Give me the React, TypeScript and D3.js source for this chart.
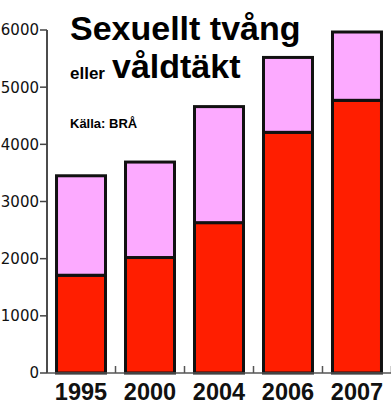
import React, { useEffect, useRef } from 'react';
import * as d3 from 'd3';

const years = ['1995', '2000', '2004', '2006', '2007'];
const valdtakt = [1710, 2020, 2630, 4210, 4770];
const ovrigt = [1740, 1670, 2030, 1310, 1195];
const yTicks = [0, 1000, 2000, 3000, 4000, 5000, 6000];

const RED = '#ff1e00';
const PINK = '#fcaaff';

const App: React.FC = () => {
  const svgRef = useRef<SVGSVGElement>(null);

  useEffect(() => {
    if (!svgRef.current) return;
    const width = 391;
    const height = 406;
    const axisX = 47;
    const baseY = 373;

    const svg = d3.select(svgRef.current);
    svg.selectAll('*').remove();

    svg.append('rect').attr('width', width).attr('height', height).attr('fill', '#fff');

    const x = d3.scaleBand<string>()
      .domain(years)
      .range([axisX, width])
      .paddingInner(0.29)
      .paddingOuter(0.138);

    const y = d3.scaleLinear().domain([0, 6000]).range([baseY, 30]);

    const rows = years.map((yr, i) => ({ year: yr, red: valdtakt[i], pink: ovrigt[i] }));
    const stack = d3.stack<{ year: string; red: number; pink: number }>().keys(['red', 'pink']);
    const series = stack(rows);
    const colors: Record<string, string> = { red: RED, pink: PINK };

    // bars
    series.forEach(s => {
      svg.append('g')
        .selectAll('rect')
        .data(s)
        .join('rect')
        .attr('x', d => x(d.data.year)!)
        .attr('width', x.bandwidth())
        .attr('y', d => y(d[1]))
        .attr('height', d => y(d[0]) - y(d[1]))
        .attr('fill', colors[s.key])
        .attr('stroke', '#111')
        .attr('stroke-width', 3);
    });

    // y axis
    svg.append('line')
      .attr('x1', axisX).attr('x2', axisX)
      .attr('y1', y(6000)).attr('y2', baseY)
      .attr('stroke', '#111').attr('stroke-width', 1.5);
    const yg = svg.append('g');
    yTicks.forEach(t => {
      yg.append('line')
        .attr('x1', axisX - 7).attr('x2', axisX)
        .attr('y1', y(t)).attr('y2', y(t))
        .attr('stroke', '#444').attr('stroke-width', 1.5);
      yg.append('text')
        .attr('x', axisX - 8).attr('y', y(t))
        .attr('dy', '0.36em')
        .attr('text-anchor', 'end')
        .attr('font-family', 'DejaVu Sans')
        .attr('font-size', 15)
        .attr('fill', '#111')
        .text(String(t));
    });

    // x axis
    svg.append('line')
      .attr('x1', axisX).attr('x2', width)
      .attr('y1', baseY).attr('y2', baseY)
      .attr('stroke', '#555').attr('stroke-width', 1.5);
    const gap = x.step() - x.bandwidth();
    years.forEach(yr => {
      const tx = x(yr)! + x.bandwidth() + gap / 2;
      svg.append('line')
        .attr('x1', tx).attr('x2', tx)
        .attr('y1', baseY - 7).attr('y2', baseY)
        .attr('stroke', '#555').attr('stroke-width', 1.5);
      svg.append('text')
        .attr('x', x(yr)! + x.bandwidth() / 2)
        .attr('y', 400)
        .attr('text-anchor', 'middle')
        .attr('font-family', 'Liberation Sans, Arial, sans-serif')
        .attr('font-weight', 'bold')
        .attr('font-size', 23.5)
        .attr('fill', '#111')
        .text(yr);
    });

    // titles
    const font = 'Liberation Sans, Arial, sans-serif';
    svg.append('text')
      .attr('x', 70).attr('y', 40)
      .attr('font-family', font).attr('font-weight', 'bold').attr('font-size', 34)
      .attr('fill', '#000')
      .text('Sexuellt tvång');
    svg.append('text')
      .attr('x', 70).attr('y', 79)
      .attr('font-family', font).attr('font-weight', 'bold').attr('font-size', 17)
      .attr('fill', '#000')
      .text('eller');
    svg.append('text')
      .attr('x', 112).attr('y', 78)
      .attr('font-family', font).attr('font-weight', 'bold').attr('font-size', 34)
      .attr('fill', '#000')
      .text('våldtäkt');
    svg.append('text')
      .attr('x', 70).attr('y', 128)
      .attr('font-family', font).attr('font-weight', 'bold').attr('font-size', 13)
      .attr('fill', '#000')
      .text('Källa: BRÅ');
  }, []);

  return (
    <svg
      ref={svgRef}
      width={391}
      height={406}
      style={{ position: 'absolute', left: 0, top: 0, display: 'block' }}
    />
  );
};

export default App;
